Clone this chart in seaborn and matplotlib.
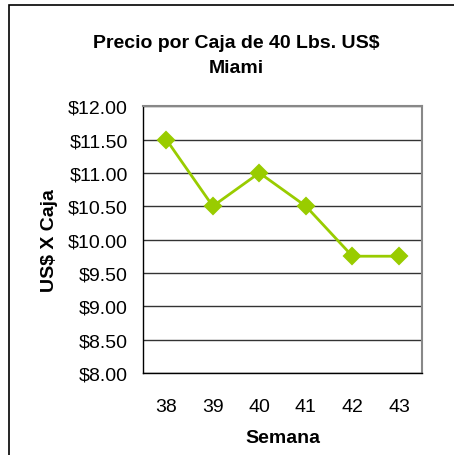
import numpy as np
import pandas as pd
import seaborn as sns
import matplotlib.pyplot as plt
from matplotlib.ticker import FixedLocator, FuncFormatter
from matplotlib.patches import Rectangle

# --- data -----------------------------------------------------------
semanas = ['38', '39', '40', '41', '42', '43']
precios = [11.50, 10.50, 11.00, 10.50, 9.75, 9.75]

df = pd.DataFrame({'Semana': semanas, 'Precio': precios})

sns.set_style('white')
plt.rcParams['font.family'] = ['Liberation Sans', 'DejaVu Sans']
plt.rcParams['text.color'] = 'black'
plt.rcParams['axes.labelcolor'] = 'black'
plt.rcParams['xtick.color'] = 'black'
plt.rcParams['ytick.color'] = 'black'

fig = plt.figure(figsize=(4.54, 4.56), dpi=100)
ax = fig.add_axes([0.315, 0.18, 0.615, 0.585])

sns.pointplot(data=df, x='Semana', y='Precio', color='#99CC00',
              marker='D', markersize=8, linewidth=2, ax=ax)

ax.set_ylim(8, 12)
ax.set_xlim(-0.5, len(semanas) - 0.5)
ax.set_yticks(np.arange(8, 12.01, 0.5))
ax.yaxis.set_major_formatter(FuncFormatter(lambda v, p: f'${v:.2f}'))
ax.yaxis.grid(True, color='#333333', linewidth=1)
ax.set_axisbelow(True)

# category labels centred, tick marks on the boundaries
ax.tick_params(axis='x', which='major', length=0, pad=18, labelsize=14)
ax.xaxis.set_minor_locator(FixedLocator(np.arange(-0.5, len(semanas), 1)))
ax.tick_params(axis='x', which='minor', length=5, width=1, color='black', direction='out')
ax.tick_params(axis='y', length=5, width=1, color='black', direction='out', labelsize=14, pad=6)

for side in ['left', 'bottom']:
    ax.spines[side].set_color('black')
    ax.spines[side].set_linewidth(1)
for side in ['top', 'right']:
    ax.spines[side].set_color('#888888')
    ax.spines[side].set_linewidth(1.5)

ax.set_xlabel('Semana', fontsize=14, fontweight='bold', labelpad=10)
ax.set_ylabel('US$ X Caja', fontsize=14, fontweight='bold', labelpad=7)
fig.suptitle('Precio por Caja de 40 Lbs. US$\nMiami', fontsize=14, fontweight='bold',
             x=0.52, y=0.924, linespacing=1.65)

# outer chart border (only left/top show in the crop)
fig.patches.append(Rectangle((9 / 454, -0.1), 1.2, 1.1 - 6 / 456,
                             transform=fig.transFigure, fill=False,
                             edgecolor='black', linewidth=1.2))

fig.savefig('out.png', dpi=100)
